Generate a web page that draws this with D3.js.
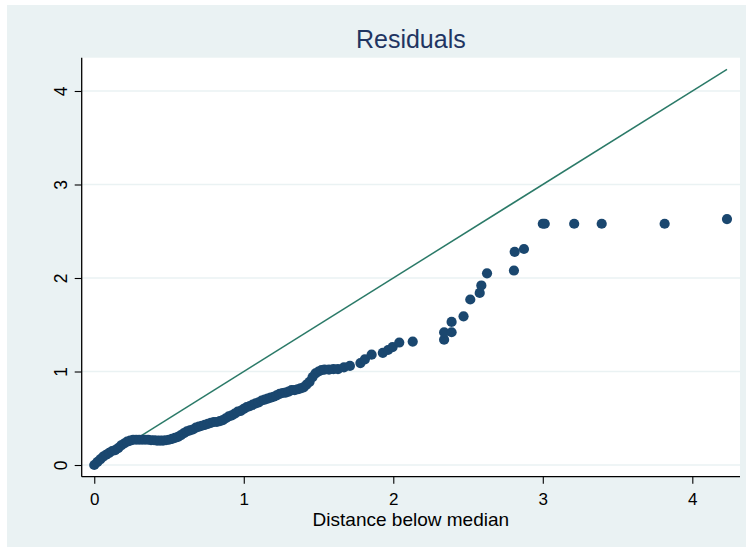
<!DOCTYPE html>
<html>
<head>
<meta charset="utf-8">
<script src="https://cdn.jsdelivr.net/npm/d3@7"></script>
<style>
  body { margin: 0; background: #fff; }
  svg { display: block; font-family: "Liberation Sans", Arial, sans-serif; }
</style>
</head>
<body>
<svg id="chart" width="746" height="548"></svg>
<script>
/* ============================
   Data (symmetry plot of residuals)
============================ */

// distance below median (x)
const below = [
  0.00, 0.02, 0.04, 0.06, 0.08, 0.10, 0.12, 0.14, 0.16, 0.18,
  0.20, 0.22, 0.24, 0.26, 0.28, 0.30, 0.32, 0.34, 0.36, 0.38,
  0.40, 0.42, 0.44, 0.46, 0.48, 0.50, 0.52, 0.54, 0.56, 0.58,
  0.60, 0.62, 0.64, 0.66, 0.68, 0.70, 0.72, 0.74, 0.76, 0.78,
  0.80, 0.82, 0.84, 0.86, 0.88, 0.90, 0.92, 0.94, 0.96, 0.98,
  1.00, 1.02, 1.04, 1.06, 1.08, 1.10, 1.12, 1.14, 1.16, 1.18,
  1.20, 1.22, 1.24, 1.26, 1.28, 1.30, 1.32, 1.34, 1.36, 1.38,
  1.40, 1.42, 1.44, 1.46, 1.48, 1.50, 1.52, 1.54, 1.57, 1.60,
  1.63, 1.67, 1.71, 1.78, 1.81, 1.855, 1.93, 1.965, 1.995, 2.04,
  2.13, 2.34, 2.34, 2.39, 2.39, 2.47, 2.515, 2.578, 2.589, 2.627,
  2.807, 2.812, 2.874, 3.00, 3.013, 3.21, 3.394, 3.815, 4.232
];

// distance above median (y)
const above = [
  0.00, 0.03, 0.06, 0.09, 0.11, 0.13, 0.15, 0.16, 0.18, 0.21,
  0.23, 0.25, 0.26, 0.27, 0.27, 0.27, 0.27, 0.27, 0.27, 0.265,
  0.265, 0.26, 0.26, 0.26, 0.265, 0.27, 0.28, 0.29, 0.30, 0.32,
  0.34, 0.36, 0.37, 0.38, 0.40, 0.41, 0.42, 0.43, 0.44, 0.45,
  0.46, 0.46, 0.47, 0.48, 0.50, 0.52, 0.53, 0.55, 0.57, 0.58,
  0.60, 0.62, 0.63, 0.645, 0.66, 0.67, 0.69, 0.70, 0.71, 0.72,
  0.73, 0.745, 0.76, 0.77, 0.775, 0.785, 0.80, 0.80, 0.81, 0.82,
  0.83, 0.86, 0.89, 0.94, 0.98, 1.00, 1.015, 1.02, 1.02, 1.025,
  1.025, 1.045, 1.06, 1.09, 1.13, 1.18, 1.20, 1.23, 1.26, 1.31,
  1.32, 1.34, 1.42, 1.42, 1.53, 1.59, 1.77, 1.84, 1.92, 2.05,
  2.08, 2.28, 2.31, 2.58, 2.58, 2.58, 2.58, 2.58, 2.63
];

const xTicks = [0, 1, 2, 3, 4];
const yTicks = [0, 1, 2, 3, 4];
const refLine = [0, 4.232];   // y = x reference line

const titleText = "Residuals";
const xTitle = "Distance below median";

/* ============================
   Layout
============================ */

const plot = { left: 81.7, right: 740, top: 57.7, bottom: 476.7 };

const svg = d3.select("#chart");

// graph region
svg.append("rect")
  .attr("x", 7).attr("y", 5)
  .attr("width", 746 - 7).attr("height", 547 - 5)
  .attr("fill", "#eaf2f3");

// plot region
svg.append("rect")
  .attr("x", plot.left).attr("y", plot.top)
  .attr("width", plot.right - plot.left)
  .attr("height", plot.bottom - plot.top)
  .attr("fill", "#fff");

const x = d3.scaleLinear()
  .domain([-0.084, 4.319])
  .range([plot.left, plot.right]);

const y = d3.scaleLinear()
  .domain([-0.125, 4.356])
  .range([plot.bottom, plot.top]);

// gridlines
svg.append("g")
  .selectAll("line")
  .data(yTicks)
  .enter()
  .append("line")
  .attr("x1", plot.left).attr("x2", plot.right)
  .attr("y1", d => y(d)).attr("y2", d => y(d))
  .attr("stroke", "#eaf2f3")
  .attr("stroke-width", 1.5);

// reference line
svg.append("line")
  .attr("x1", x(refLine[0])).attr("y1", y(refLine[0]))
  .attr("x2", x(refLine[1])).attr("y2", y(refLine[1]))
  .attr("stroke", "#2b7a68")
  .attr("stroke-width", 1.5);

// points
const pts = below.map((b, i) => ({ b, a: above[i] }));

svg.append("g")
  .selectAll("circle")
  .data(pts)
  .enter()
  .append("circle")
  .attr("cx", d => x(d.b))
  .attr("cy", d => y(d.a))
  .attr("r", 5.1)
  .attr("fill", "#1a476f");

/* ============================
   Axes
============================ */

const xAxis = svg.append("g")
  .attr("transform", `translate(0,${plot.bottom})`)
  .call(d3.axisBottom(x).tickValues(xTicks).tickSize(7).tickPadding(0).tickFormat(d3.format("d")));

xAxis.select(".domain")
  .attr("d", `M${plot.left},0H${plot.right}`)
  .attr("stroke", "#000")
  .attr("stroke-width", 1.3);
xAxis.selectAll(".tick line").attr("stroke", "#000").attr("stroke-width", 1.1);
xAxis.selectAll(".tick text")
  .attr("y", 28)
  .attr("dy", null)
  .attr("fill", "#000")
  .style("font-size", "17px")
  .style("font-family", "Liberation Sans, Arial, sans-serif");

const yAxis = svg.append("g")
  .attr("transform", `translate(${plot.left},0)`)
  .call(d3.axisLeft(y).tickValues(yTicks).tickSize(7).tickFormat(d3.format("d")));

yAxis.select(".domain")
  .attr("d", `M0,${plot.top}V${plot.bottom}`)
  .attr("stroke", "#000")
  .attr("stroke-width", 1.3);
yAxis.selectAll(".tick line").attr("stroke", "#000").attr("stroke-width", 1.1);
yAxis.selectAll(".tick text")
  .attr("x", null)
  .attr("dy", null)
  .attr("text-anchor", "middle")
  .attr("transform", "translate(-15.2,0) rotate(-90)")
  .attr("fill", "#000")
  .style("font-size", "17.5px")
  .style("font-family", "Liberation Sans, Arial, sans-serif");

// titles
svg.append("text")
  .attr("x", (plot.left + plot.right) / 2)
  .attr("y", 48.3)
  .attr("text-anchor", "middle")
  .attr("fill", "#1f3562")
  .style("font-size", "25px")
  .text(titleText);

svg.append("text")
  .attr("x", (plot.left + plot.right) / 2)
  .attr("y", 525.5)
  .attr("text-anchor", "middle")
  .attr("fill", "#000")
  .style("font-size", "19px")
  .text(xTitle);
</script>
</body>
</html>
